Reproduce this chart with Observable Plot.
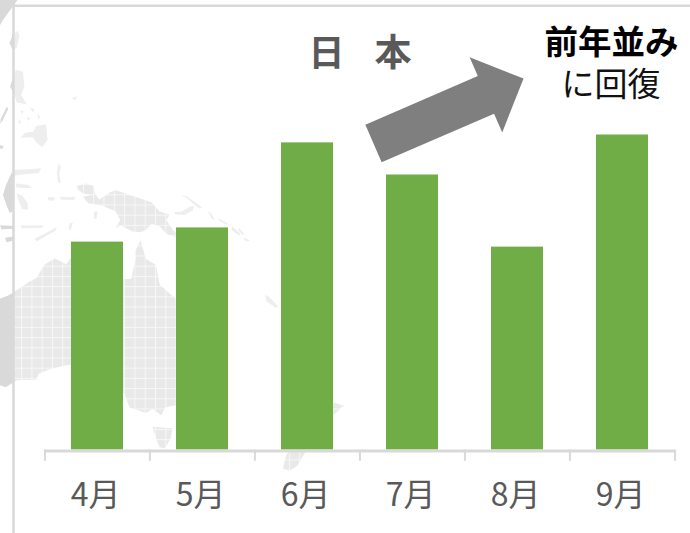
<!DOCTYPE html>
<html lang="ja">
<head>
<meta charset="utf-8">
<script src="https://cdn.jsdelivr.net/npm/d3@7"></script>
<script src="https://cdn.jsdelivr.net/npm/@observablehq/plot@0.6"></script>
<style>
  html, body { margin: 0; padding: 0; background: #fff; }
  #stage { position: relative; width: 690px; height: 533px; overflow: hidden; }
  #stage svg { position: absolute; left: 0; top: 0; background: transparent; }
  #stage .dark { clip-path: polygon(0 0, 100% 0, 100% 6px, 13px 6px, 13px 100%, 0 100%); }
</style>
</head>
<body>
<div id="stage"></div>
<script>
// Monthly index for Japan, with September as 100
const months = ["4月", "5月", "6月", "7月", "8月", "9月"];
const values = [66, 70.5, 97.5, 87.3, 64.4, 100];

// Backdrop coastlines as [longitude, latitude] rings
const australia = [[114.1,-21.9],[115,-21.6],[118.6,-20.3],[122.2,-18],[123.6,-17.3],[125,-15],[126.9,-13.9],[129,-14.9],[130.8,-12.4],[132.6,-11.3],[136.8,-12.2],[135.9,-13.5],[135.5,-15],[139,-17.5],[140.8,-17.5],[141.6,-14],[141.6,-12.5],[142.5,-10.7],[143.5,-14],[145.3,-15],[146,-18.5],[147,-19.3],[149,-21],[151,-23.5],[153.2,-25.5],[153.5,-28],[152.5,-32],[151,-34],[150,-37.5],[147,-38],[146.3,-39.1],[144.7,-38.2],[143.5,-38.8],[140.5,-38],[139.6,-36],[138.2,-35.5],[137.8,-33],[136,-34.8],[135.5,-34.8],[134,-32.7],[131,-31.5],[129,-31.7],[126,-32.3],[124,-33],[123.5,-33.9],[120,-34],[118,-35],[115.8,-34.5],[115,-34.3],[115.7,-32],[115,-30],[114.2,-27],[113.4,-25],[113.5,-23.5]];
const tasmania = [[144.7,-40.7],[148.3,-40.9],[148,-42.2],[147,-43.6],[146,-43.5],[145.3,-42.2]];
const newGuinea = [[131,-0.8],[132.5,-0.4],[134,-0.8],[134.2,-2.2],[135,-3.3],[137,-2],[138,-1.6],[141,-2.6],[144.5,-3.8],[146,-5.5],[147.8,-6],[147.2,-7],[148.5,-9],[150.8,-10.3],[149.5,-10.3],[147.2,-9.5],[146,-8.2],[144.5,-7.7],[143.5,-8.8],[142.5,-9.2],[141,-9.1],[139,-8],[138,-8.4],[138.8,-7],[138,-5.5],[135.5,-4.4],[133,-4],[132,-2.8],[133.5,-2.5],[132,-2.2],[131,-1.3]];
const newZealandSouth = [[172.7,-40.6],[174.3,-41.7],[172.8,-43.7],[171,-45.9],[169.6,-46.5],[168.4,-46.2],[169,-44.6],[171,-42]];
const newZealandNorth = [[173,-34.5],[174.5,-36],[175.5,-36.8],[179.5,-37.7],[177,-39.5],[175.3,-41.6],[174.7,-39.9]];
const mainland = [australia, tasmania, newGuinea, newZealandSouth, newZealandNorth];

const china = [[100,40],[120.4,40],[120.8,34],[120.3,31.5],[118.6,29.5],[117.4,28],[115.5,25],[110,21],[100,21]];
const taiwan = [[120.2,26.4],[120.5,25.5],[120,23.6],[119.3,23.2],[118.7,24.4],[119.3,25.8]];
const luzon = [[119.8,19.9],[121.1,19.6],[121.4,17],[120.8,15.5],[121.8,13.9],[120,14.2],[119.6,15.5],[118.8,17]];
const palawan = [[118.2,13.5],[118.4,13],[117.4,11],[117,10.4],[117.1,11.2]];
const mindanao = [[123.5,10],[125.3,10.3],[125.6,7.5],[124.6,6.2],[123.6,7],[122.9,8],[120.7,7.9],[121.5,8.8],[123,9]];
const visayas = [
  [[120.6,12.8],[121.2,12.7],[121,12.1]],
  [[122.4,13.3],[123.2,13],[122.9,12.4]],
  [[121.8,11.6],[122.5,11.4],[122.1,10.9]],
  [[123.7,12.2],[124.3,11.7],[123.9,11.2]],
  [[120.4,11.2],[120.8,10.7],[120.3,10.3]]
];
const borneoTip = [[116.5,6.6],[117.6,6.4],[117.4,5.9],[116.5,6]];
const sulawesi = [[119.1,1.6],[119.4,0.7],[119.2,-0.3],[119.4,-1.2],[119.3,-3],[119.2,-5.5],[118.7,-5.7],[118,-4],[117.5,-2.5],[118,-0.8]];
const sulawesiNorth = [[119.3,2.1],[122,2.2],[124.4,2.4],[124,1.5],[121.5,1.3],[119.5,1]];
const sulawesiEast = [[119.8,-0.4],[122,-0.6],[122.8,-1.2],[121,-1.2],[119.9,-1.1]];
const sulawesiSouth = [[120,-2.2],[121,-2.6],[122,-4],[122,-5.2],[120.9,-5],[120.4,-3.6]];
const halmahera = [[127.6,3.2],[128,2.8],[127.7,1.3],[128,-0.3],[127.5,-0.2],[127.3,1.5]];
const buru = [[125.6,-2.9],[126.9,-2.9],[126.8,-3.5],[125.8,-3.5]];
const seram = [[127.8,-2.8],[130.7,-2.9],[130.4,-3.4],[128,-3.3]];
const sumba = [[117.9,-10.2],[119.5,-10],[119.4,-10.7],[118.1,-11]];
const sumbawa = [[117,-8],[119.6,-8.1],[119.4,-8.6],[117.2,-8.7]];
const flores = [[120.7,-8],[125,-8],[124.6,-8.4],[120.9,-8.5]];
const timor = [[123.2,-10.4],[125.2,-9.4],[127.3,-8.3],[127,-9],[124.6,-10.3],[123.7,-10.9]];
const tanimbar = [[129.6,-7.6],[130.2,-7.5],[129.8,-8.8],[129.4,-8.7]];
const aru = [[134.1,-5.5],[134.7,-5.5],[134.5,-6.8],[134,-6.8]];
const newBritain = [[148.5,-5.6],[150,-5.5],[151.5,-4.6],[152.3,-4.5],[152,-5.3],[150.5,-6.1],[149,-6]];
const newIreland = [[149.8,-2.5],[151,-2.8],[153,-4.2],[153.8,-4.9],[153,-4.8],[151,-3.1]];
const solomons = [
  [[154.8,-5.4],[155.4,-5.9],[156,-7],[155.4,-6.7]],
  [[156.6,-6.7],[158.4,-7.6],[158.2,-7.9],[156.8,-7.1]],
  [[159.2,-8.2],[160.6,-9.4],[160.5,-9.8],[159,-8.8]],
  [[160.4,-8.4],[161.4,-9.6],[161.1,-9.7],[160.3,-8.9]],
  [[161.4,-10.2],[162.4,-10.7],[162,-10.9],[161.3,-10.6]]
];
const newCaledonia = [[165.2,-20.2],[165.9,-20.6],[167.6,-22.2],[167.1,-22.4],[165.4,-21.3]];
const fiji = [[180.2,-17.5],[181.2,-17.6],[181.1,-18.3],[180.2,-18.2]];
const vanuaLevu = [[181.2,-16.4],[182.6,-16],[182.4,-16.5],[181.5,-16.8]];
const marianas = [[130,15],[130.9,15.3],[130.6,14.6]];
const outlying = [
  taiwan, luzon, palawan, mindanao, ...visayas, borneoTip, sulawesi, sulawesiNorth,
  sulawesiEast, sulawesiSouth, halmahera, buru, seram, sumba, sumbawa, flores, timor,
  tanimbar, aru, newBritain, newIreland, ...solomons, newCaledonia, fiji, vanuaLevu, marianas
];

// d3 treats a ring's winding as its inside, so keep every ring small
function landPolygon(ring) {
  const closed = [...ring, ring[0]];
  const polygon = {type: "Polygon", coordinates: [closed]};
  return d3.geoArea(polygon) > 2 * Math.PI
    ? {type: "Polygon", coordinates: [closed.slice().reverse()]}
    : polygon;
}
const collect = (rings) => ({type: "GeometryCollection", geometries: rings.map(landPolygon)});

function backdrop(layers) {
  return Plot.plot({
    width: 690,
    height: 533,
    margin: 0,
    projection: d3.geoMercator().center([142.5, -10.7]).translate([140, 240]).scale(315),
    marks: layers.map(([rings, fill]) => Plot.geo(collect(rings), {fill, stroke: "none"}))
  });
}

// Land inside the frame carries a fine grid; small islands read paler
const lightMap = backdrop([[mainland, "url(#land-grid)"], [outlying, "#eeeeee"]]);
const ns = "http://www.w3.org/2000/svg";
const defs = document.createElementNS(ns, "defs");
defs.innerHTML = `<pattern id="land-grid" width="10.3" height="10.2" patternUnits="userSpaceOnUse">
  <rect width="10.3" height="10.2" fill="#e9e9e9"/>
  <rect width="1" height="10.2" fill="#f7f7f7"/>
  <rect width="10.3" height="1" fill="#f7f7f7"/>
</pattern>`;
lightMap.prepend(defs);

// Land outside the frame is a flat darker grey
const darkMap = backdrop([[[...mainland, china, ...outlying], "#d9d9d9"]]);
darkMap.classList.add("dark");

// Block arrow outline drawn along the vector's length
const riseArrow = {
  draw(context, l) {
    const shaft = 20.5, head = 41, headLength = 41;
    context.moveTo(-shaft, 0);
    context.lineTo(-shaft, -(l - headLength));
    context.lineTo(-head, -(l - headLength));
    context.lineTo(0, -l);
    context.lineTo(head, -(l - headLength));
    context.lineTo(shaft, -(l - headLength));
    context.lineTo(shaft, 0);
    context.closePath();
  }
};

const grey = "#d9d9d9";
const chart = Plot.plot({
  width: 690,
  height: 533,
  marginTop: 134.5,
  marginBottom: 83.5,
  marginLeft: 44,
  marginRight: 15,
  style: {fontFamily: "'Noto Sans CJK JP', sans-serif", background: "transparent"},
  x: {domain: months, paddingInner: 0.505, paddingOuter: 0.25, label: null},
  y: {domain: [0, 100], axis: null},
  marks: [
    // frame lines along the top and left of the panel
    Plot.ruleY([141], {stroke: grey, strokeWidth: 2.5, insetLeft: -31, insetRight: -15}),
    Plot.ruleX(["4月"], {y1: -27, y2: 143, dx: -84, stroke: grey, strokeWidth: 2.5}),
    Plot.barY(months.map((m, i) => ({m, v: values[i]})), {x: "m", y: "v", fill: "#70ad47"}),
    // category axis with ticks on the band edges
    Plot.ruleY([0], {stroke: grey, strokeWidth: 3, dy: 1}),
    Plot.ruleX(months, {y1: 0, y2: -3.6, dx: -52.6, stroke: grey, strokeWidth: 2}),
    Plot.ruleX(months.slice(-1), {y1: 0, y2: -3.6, dx: 52.6, stroke: grey, strokeWidth: 2}),
    Plot.axisX({tickSize: 0, tickPadding: 33, fontSize: 32, dx: -2, fill: "#595959", label: null}),
    // heading and callout
    Plot.text(["日"], {x: () => "7月", y: () => 125.6, dx: -86, fontSize: 36, fontWeight: 700, fill: "#595959"}),
    Plot.text(["本"], {x: () => "7月", y: () => 125.6, dx: -19.5, fontSize: 37, fontWeight: 700, fill: "#595959"}),
    Plot.text(["前年並み"], {x: () => "9月", y: () => 129, dx: -11, fontSize: 33.5, fontWeight: 700, fill: "#000"}),
    Plot.text(["に回復"], {x: () => "9月", y: () => 115.7, dx: -11.5, fontSize: 33, fill: "#111"}),
    Plot.vector([0], {
      x: () => "7月",
      y: () => 97.3,
      dx: -39,
      rotate: 66.6,
      length: 163.5,
      anchor: "start",
      shape: riseArrow,
      fill: "#7f7f7f",
      stroke: "none"
    })
  ]
});

document.getElementById("stage").append(lightMap, darkMap, chart);
</script>
</body>
</html>
